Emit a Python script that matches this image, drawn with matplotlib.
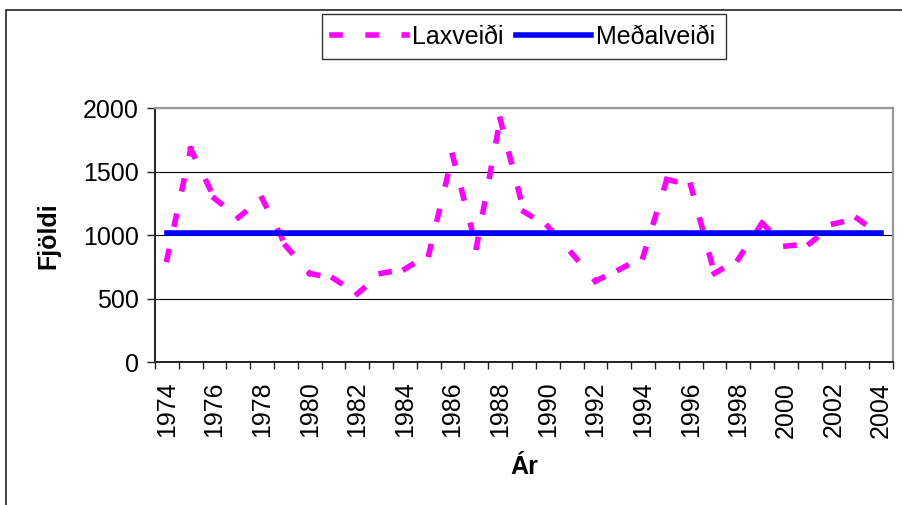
import matplotlib
matplotlib.use('Agg')
import matplotlib.pyplot as plt
from matplotlib.collections import LineCollection
from matplotlib.lines import Line2D
from matplotlib.patches import Rectangle

plt.rcParams['font.family'] = ['Liberation Sans', 'DejaVu Sans']
plt.rcParams['lines.scale_dashes'] = False

# ===================== Gögn (lesin af mynd) =====================
ar = list(range(1974, 2005))
laxveidi = [810, 1680, 1290, 1140, 1290, 915, 700, 660, 540, 700,
            735, 850, 1630, 905, 1915, 1185, 1070, 860, 640, 730,
            830, 1440, 1395, 700, 812, 1095, 915, 935, 1090, 1132,
            1000]
medalveidi = 1020
y_ticks = [0, 500, 1000, 1500, 2000]
x_labels = [a for a in ar if a % 2 == 0]

W, H = 903, 505
FS = 18
MAGENTA = '#FF00FF'
BLUE = '#0000FF'
DASH = (0, (5.8, 20.2))   # Excel-líkt strik, byrjar upp á nýtt í hverjum punkti

fig = plt.figure(figsize=(W / 100, H / 100), dpi=100)
ax = fig.add_axes([155 / W, 1 - 362.3 / H, 738 / W, 254 / H])

# Laxveiði: hver bútur teiknaður sér svo strikamynstrið byrji í hverjum punkti
segs = [[(ar[i], laxveidi[i]), (ar[i + 1], laxveidi[i + 1])] for i in range(len(ar) - 1)]
lc = LineCollection(segs, colors=MAGENTA, linewidths=4, linestyles=[DASH],
                    capstyle='projecting', zorder=2)
ax.add_collection(lc)
ax.plot(ar, [medalveidi] * len(ar), color=BLUE, lw=4, solid_capstyle='projecting', zorder=3)

ax.set_xlim(ar[0] - 0.5, ar[-1] + 0.5)
ax.set_ylim(y_ticks[0], y_ticks[-1])

# ásar
ax.set_yticks(y_ticks)
ax.set_yticklabels([str(v) for v in y_ticks], fontsize=FS)
ax.tick_params(axis='y', length=5.8, width=1, color='#222222', pad=6)
ax.set_xticks(x_labels)
ax.set_xticklabels([str(v) for v in x_labels], rotation=90, fontsize=FS, va='top')
ax.set_xticks([a - 0.5 for a in ar] + [ar[-1] + 0.5], minor=True)
ax.tick_params(axis='x', which='major', length=0, pad=14)
ax.tick_params(axis='x', which='minor', length=5, width=1, color='#222222')

ax.yaxis.grid(True, color='black', lw=0.8, zorder=1)
ax.set_axisbelow(True)
for s in ['left', 'bottom']:
    ax.spines[s].set_color('#222222'); ax.spines[s].set_linewidth(1.4)
for s in ['top', 'right']:
    ax.spines[s].set_color('#999999'); ax.spines[s].set_linewidth(1.6)

ax.set_ylabel('Fjöldi', fontsize=18, fontweight='bold', va='center', ha='center')
ax.yaxis.set_label_coords((48.5 - 155) / 738, 0.5)
ax.set_xlabel('Ár', fontsize=18, fontweight='bold', va='center', ha='center')
ax.xaxis.set_label_coords(0.5, (362.3 - 467) / 254)

# skýringar
handles = [Line2D([], [], color=MAGENTA, lw=4, linestyle=DASH, dash_capstyle='projecting'),
           Line2D([], [], color=BLUE, lw=4, solid_capstyle='projecting')]
leg = fig.legend(handles, ['Laxveiði', 'Meðalveiði'], ncol=2, loc='center',
                 bbox_to_anchor=(523.7 / W, 1 - 36.5 / H), fontsize=FS,
                 frameon=True, fancybox=False, shadow=False, handlelength=3.0,
                 handletextpad=0.2, columnspacing=0.5, borderpad=0.42, borderaxespad=0)
leg.get_frame().set_edgecolor('black')
leg.get_frame().set_linewidth(1)

# rammi utan um allt grafið
fig.patches.append(Rectangle((6.5 / W, -0.1), 2, 1 - 10 / H + 0.1, transform=fig.transFigure,
                             fill=False, ec='#222222', lw=1.2))

fig.savefig('out.png', dpi=100)
